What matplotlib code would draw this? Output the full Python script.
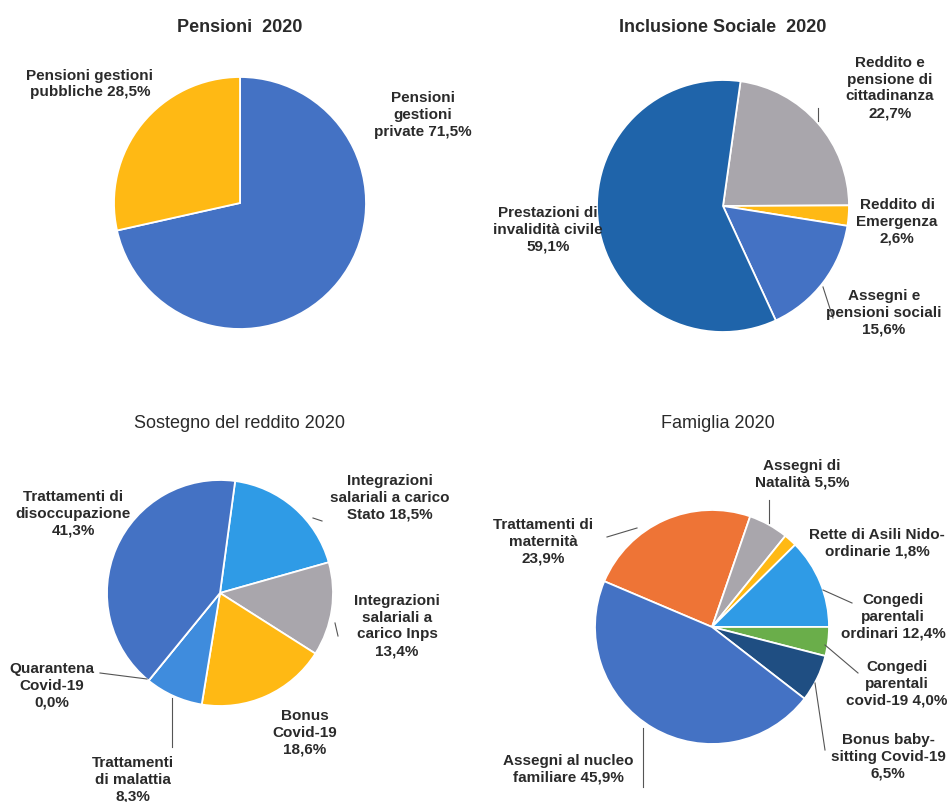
import matplotlib
matplotlib.use('Agg')
import matplotlib.pyplot as plt
import numpy as np

# --- Data ---
pens_labels = ['Pensioni\ngestioni\nprivate 71,5%', 'Pensioni gestioni\npubbliche 28,5%']
pens_values = [71.5, 28.5]

incl_labels = ['Reddito e\npensione di\ncittadinanza\n22,7%', 'Reddito di\nEmergenza\n2,6%',
               'Assegni e\npensioni sociali\n15,6%', 'Prestazioni di\ninvalidità civile\n59,1%']
incl_values = [22.7, 2.6, 15.6, 59.1]

sost_labels = ['Integrazioni\nsalariali a carico\nStato 18,5%', 'Integrazioni\nsalariali a\ncarico Inps\n13,4%',
               'Bonus\nCovid-19\n18,6%', 'Trattamenti\ndi malattia\n8,3%', 'Quarantena\nCovid-19\n0,0%',
               'Trattamenti di\ndisoccupazione\n41,3%']
sost_values = [18.5, 13.4, 18.6, 8.3, 0.0, 41.3]

fam_labels = ['Trattamenti di\nmaternità\n23,9%', 'Assegni di\nNatalità 5,5%', 'Rette di Asili Nido-\nordinarie 1,8%',
              'Congedi\nparentali\nordinari 12,4%', 'Congedi\nparentali\ncovid-19 4,0%',
              'Bonus baby-\nsitting Covid-19\n6,5%', 'Assegni al nucleo\nfamiliare 45,9%']
fam_values = [23.9, 5.5, 1.8, 12.4, 4.0, 6.5, 45.9]

# --- Styling ---
BLUE = '#4472C4'
DARK_BLUE = '#1F64AA'
NAVY = '#1F4E82'
LIGHT_BLUE = '#2F9BE6'
MID_BLUE = '#3F8CDD'
GRAY = '#A9A6AC'
YELLOW = '#FFB914'
ORANGE = '#EE7436'
GREEN = '#6AAE4A'

plt.rcParams['font.family'] = ['Liberation Sans', 'DejaVu Sans']
TXT = '#2a2a2a'

W, H = 951, 802
fig = plt.figure(figsize=(W / 100, H / 100), dpi=100)
ax = fig.add_axes([0, 0, 1, 1])


def Y(y):
    # picture rows run downward, data y runs upward
    return H - y


def draw_pie(values, colors, cx, cy, r, start):
    wedges, _ = ax.pie(values, colors=colors, startangle=start, counterclock=False,
                       center=(cx, Y(cy)), radius=r, frame=True,
                       wedgeprops=dict(edgecolor='white', linewidth=1.3))
    return wedges


def put_labels(labels, positions, size=11):
    for lab, (x, y) in zip(labels, positions):
        ax.text(x, Y(y), lab, ha='center', va='center', fontsize=size,
                fontweight='bold', color=TXT, linespacing=1.25)


def title(x, y, s, bold):
    ax.text(x, Y(y), s, ha='center', va='center', fontsize=13,
            fontweight='bold' if bold else 'normal', color=TXT)


def leaders(lines):
    for (x0, y0), (x1, y1) in lines:
        ax.plot([x0, x1], [Y(y0), Y(y1)], color='#555555', lw=0.8)


# Pensioni
draw_pie(pens_values, [BLUE, YELLOW], 240, 203, 126, 90)
title(240, 27, 'Pensioni  2020', True)
put_labels(pens_labels, [(423, 115), (90, 84)])

# Inclusione sociale
draw_pie(incl_values, [GRAY, YELLOW, BLUE, DARK_BLUE], 723, 206, 126, 82)
title(723, 27, 'Inclusione Sociale  2020', True)
put_labels(incl_labels, [(890, 88), (897, 222), (884, 313), (548, 230)])
leaders([((818, 108), (818, 121)), ((823, 287), (833, 318))])

# Sostegno del reddito
draw_pie(sost_values, [LIGHT_BLUE, GRAY, YELLOW, MID_BLUE, '#5B9BD5', BLUE], 220, 593, 113, 82.3)
title(240, 423, 'Sostegno del reddito 2020', False)
put_labels(sost_labels, [(390, 498), (397, 626), (305, 733), (133, 780), (52, 686), (73, 514)])
leaders([((313, 518), (322, 521)), ((335, 623), (338, 636)), ((100, 673), (147, 679)),
         ((172, 698), (172, 747))])

# Famiglia
draw_pie(fam_values, [ORANGE, GRAY, YELLOW, LIGHT_BLUE, GREEN, NAVY, BLUE], 712, 627, 117, 157)
title(718, 423, 'Famiglia 2020', False)
put_labels(fam_labels, [(543, 542), (802, 474), (877, 543), (893, 617), (897, 684), (888, 757), (568, 769)])
leaders([((769, 500), (769, 523)), ((607, 537), (637, 528)), ((823, 590), (852, 603)),
         ((825, 645), (858, 673)), ((815, 683), (825, 750)), ((643, 728), (643, 787))])

ax.set_xlim(0, W)
ax.set_ylim(0, H)
ax.set_aspect('auto')
ax.axis('off')

fig.savefig('out.png', dpi=100, facecolor='white')
